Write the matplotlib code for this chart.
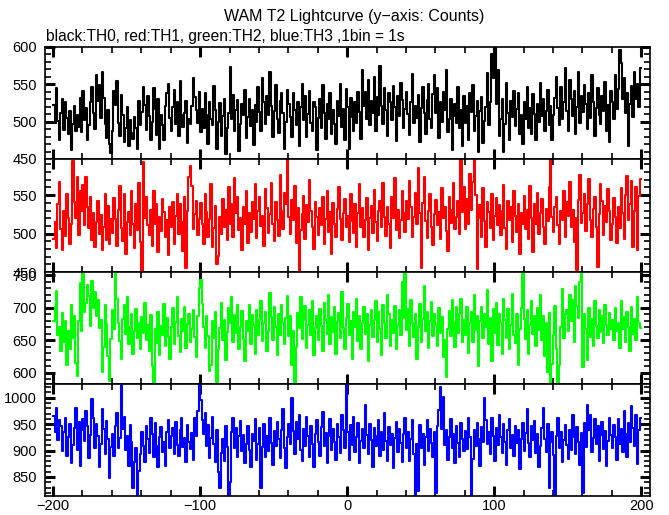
import numpy as np
import matplotlib
matplotlib.use("Agg")
import matplotlib.pyplot as plt
from matplotlib.ticker import MultipleLocator

plt.rcParams['font.family'] = ['Liberation Sans', 'DejaVu Sans']

# time bins (1 bin = 1 s), left edges
t = list(range(-200, 200))

# TH0 (black)
th0 = [
    522, 498, 545, 501, 476, 512, 530, 489, 527, 505, 483, 514, 462, 497, 521, 488, 509, 493, 532, 486,
    541, 502, 518, 476, 495, 527, 546, 511, 490, 563, 528, 549, 505, 567, 532, 497, 478, 515, 470, 458,
    487, 541, 522, 555, 498, 481, 536, 509, 473, 492, 519, 468, 502, 485, 477, 506, 491, 464, 528, 495,
    513, 547, 522, 489, 534, 508, 476, 499, 545, 517, 482, 530, 463, 509, 496, 476, 521, 538, 551, 505,
    488, 519, 542, 497, 526, 481, 555, 509, 493, 512, 528, 471, 503, 497, 521, 559, 533, 515, 498, 540,
    486, 517, 492, 538, 509, 470, 527, 503, 495, 548, 516, 463, 500, 525, 481, 507, 530, 457, 491, 512,
    573, 503, 536, 488, 515, 529, 461, 497, 524, 509, 542, 478, 506, 531, 494, 515, 469, 522, 500, 546,
    513, 488, 559, 527, 497, 535, 509, 566, 521, 480, 514, 549, 503, 485, 528, 538, 511, 463, 499, 543,
    524, 506, 480, 538, 515, 496, 527, 467, 519, 551, 502, 534, 479, 510, 541, 498, 487, 526, 519, 462,
    505, 531, 492, 549, 512, 477, 523, 503, 539, 484, 515, 497, 470, 528, 508, 551, 493, 517, 476, 544,
    519, 463, 532, 506, 488, 526, 498, 540, 513, 477, 569, 521, 540, 504, 556, 496, 528, 512, 560, 487,
    533, 509, 574, 521, 497, 545, 515, 481, 538, 526, 502, 548, 519, 474, 535, 507, 552, 529, 491, 517,
    540, 510, 482, 527, 564, 498, 521, 505, 536, 473, 518, 546, 512, 484, 529, 551, 503, 492, 537, 562,
    511, 545, 478, 526, 499, 540, 515, 569, 486, 503, 531, 462, 508, 524, 498, 547, 492, 516, 468, 535,
    498, 521, 476, 539, 513, 549, 487, 507, 528, 459, 514, 533, 472, 501, 520, 565, 496, 526, 590, 558,
    599, 523, 569, 481, 503, 530, 460, 497, 552, 512, 475, 528, 506, 541, 494, 517, 539, 483, 509, 470,
    527, 503, 546, 491, 518, 483, 537, 510, 475, 524, 499, 552, 507, 531, 487, 514, 542, 495, 521, 476,
    509, 532, 560, 518, 495, 547, 503, 526, 572, 514, 488, 556, 530, 507, 541, 483, 520, 566, 498, 535,
    513, 549, 524, 490, 539, 505, 562, 527, 481, 518, 545, 509, 497, 535, 514, 553, 488, 522, 473, 541,
    526, 503, 563, 517, 544, 596, 579, 530, 558, 512, 539, 468, 524, 548, 506, 566, 531, 551, 519, 572,
]

# TH1 (red)
th1 = [
    493, 515, 481, 539, 567, 506, 478, 530, 497, 552, 520, 486, 512, 595, 541, 520, 573, 498, 556, 529,
    563, 511, 574, 535, 507, 548, 491, 527, 483, 515, 542, 499, 524, 478, 508, 552, 491, 536, 487, 519,
    501, 546, 519, 484, 531, 562, 507, 490, 552, 473, 515, 528, 498, 556, 512, 481, 539, 505, 566, 489,
    451, 593, 520, 547, 511, 498, 531, 484, 555, 513, 539, 476, 522, 503, 545, 528, 496, 517, 472, 534,
    509, 541, 486, 523, 552, 499, 538, 515, 477, 547, 455, 530, 574, 588, 562, 506, 525, 543, 498, 519,
    540, 513, 486, 552, 528, 495, 519, 564, 482, 507, 536, 460, 471, 521, 499, 545, 509, 531, 491, 560,
    513, 538, 496, 572, 527, 548, 505, 520, 479, 535, 512, 556, 488, 527, 502, 541, 519, 565, 494, 530,
    547, 510, 523, 484, 558, 533, 501, 525, 566, 512, 490, 541, 518, 497, 576, 529, 506, 553, 538, 597,
    522, 500, 544, 517, 562, 488, 533, 451, 505, 526, 549, 493, 537, 515, 570, 530, 508, 480, 541, 522,
    498, 533, 511, 547, 486, 519, 556, 502, 528, 474, 540, 513, 495, 532, 560, 519, 491, 527, 545, 508,
    523, 489, 551, 516, 501, 538, 482, 527, 564, 509, 533, 495, 518, 546, 479, 520, 536, 501, 557, 515,
    490, 529, 543, 508, 566, 521, 497, 534, 513, 481, 548, 520, 572, 505, 531, 494, 518, 555, 527, 502,
    542, 519, 568, 534, 496, 521, 553, 512, 585, 527, 455, 540, 573, 516, 494, 530, 552, 509, 485, 526,
    544, 511, 528, 493, 559, 520, 535, 503, 477, 547, 514, 531, 566, 506, 522, 543, 499, 596, 528, 561,
    506, 545, 512, 578, 531, 567, 596, 550, 454, 520, 537, 495, 559, 516, 483, 541, 528, 507, 552, 492,
    523, 546, 511, 537, 498, 529, 563, 507, 480, 543, 517, 534, 489, 555, 523, 502, 538, 474, 527, 513,
    549, 506, 531, 493, 562, 520, 476, 538, 512, 553, 499, 527, 545, 509, 487, 532, 516, 561, 597, 521,
    502, 534, 548, 511, 486, 529, 518, 556, 495, 541, 523, 567, 509, 531, 489, 520, 453, 544, 576, 514,
    527, 551, 503, 539, 571, 518, 495, 532, 547, 509, 456, 526, 565, 543, 498, 536, 515, 558, 529, 492,
    513, 546, 522, 488, 534, 507, 559, 527, 493, 550, 575, 517, 538, 569, 482, 529, 561, 478, 549, 571,
]

# TH2 (green)
th2 = [
    680, 702, 726, 658, 671, 634, 692, 647, 679, 612, 665, 637, 704, 653, 688, 615, 596, 680, 738, 664,
    752, 694, 707, 735, 718, 672, 741, 700, 725, 688, 712, 669, 681, 601, 640, 705, 675, 626, 588, 652,
    697, 668, 754, 713, 676, 649, 622, 683, 704, 660, 716, 645, 671, 690, 629, 665, 698, 654, 677, 637,
    686, 662, 708, 651, 674, 633, 689, 610, 585, 667, 646, 693, 628, 672, 659, 706, 641, 684, 655, 621,
    670, 699, 644, 678, 716, 657, 632, 683, 664, 701, 639, 675, 690, 648, 668, 697, 655, 625, 688, 730,
    743, 706, 671, 638, 688, 657, 603, 612, 679, 654, 694, 586, 637, 669, 708, 650, 682, 620, 663, 700,
    676, 717, 648, 689, 662, 704, 637, 671, 695, 652, 618, 680, 664, 705, 645, 689, 673, 629, 697, 658,
    682, 710, 649, 676, 694, 633, 665, 722, 686, 651, 701, 671, 628, 690, 659, 705, 676, 645, 684, 718,
    657, 687, 612, 664, 585, 640, 692, 669, 717, 652, 681, 703, 639, 674, 696, 658, 711, 627, 669, 688,
    650, 698, 672, 634, 707, 681, 660, 719, 645, 686, 663, 701, 629, 678, 692, 654, 725, 669, 637, 684,
    706, 658, 680, 622, 694, 671, 713, 649, 688, 636, 677, 702, 660, 690, 619, 673, 696, 655, 682, 711,
    647, 693, 668, 628, 705, 676, 654, 720, 690, 641, 681, 662, 703, 637, 674, 697, 659, 740, 684, 753,
    666, 698, 641, 712, 677, 655, 690, 622, 671, 706, 648, 683, 733, 664, 694, 638, 679, 709, 657, 690,
    673, 641, 700, 662, 686, 625, 651, 594, 668, 695, 656, 712, 678, 640, 702, 661, 690, 714, 647, 682,
    659, 701, 630, 676, 693, 648, 719, 666, 687, 610, 679, 702, 653, 691, 670, 727, 645, 684, 618, 698,
    662, 708, 643, 690, 676, 629, 714, 681, 654, 698, 636, 673, 721, 659, 646, 690, 612, 668, 700, 753,
    683, 652, 696, 629, 674, 710, 660, 687, 642, 699, 666, 720, 651, 688, 626, 677, 601, 692, 585, 614,
    659, 703, 637, 585, 612, 671, 729, 654, 690, 697, 664, 720, 680, 712, 648, 734, 703, 684, 740, 753,
    609, 691, 668, 620, 700, 655, 683, 641, 711, 672, 653, 696, 663, 688, 646, 705, 674, 659, 692, 668,
    681, 650, 699, 664, 677, 639, 710, 668, 686, 648, 693, 671, 634, 702, 660, 683, 651, 716, 676, 669,
]

# TH3 (blue)
th3 = [
    965, 935, 980, 920, 958, 947, 899, 936, 962, 889, 925, 951, 876, 910, 943, 980, 902, 955, 871, 938,
    960, 918, 974, 946, 885, 929, 997, 962, 905, 951, 927, 868, 913, 978, 940, 893, 956, 921, 849, 907,
    931, 889, 946, 972, 905, 923, 1025, 940, 963, 902, 927, 871, 948, 916, 830, 879, 904, 816, 862, 893,
    935, 908, 878, 947, 921, 895, 962, 932, 887, 953, 909, 869, 926, 944, 898, 917, 871, 936, 958, 904,
    927, 942, 893, 955, 911, 889, 938, 962, 906, 924, 879, 948, 917, 903, 934, 882, 961, 927, 975, 1026,
    995, 957, 931, 972, 909, 948, 886, 923, 964, 912, 879, 938, 860, 830, 895, 922, 881, 947, 907, 816,
    840, 935, 961, 904, 942, 888, 927, 956, 899, 930, 876, 912, 947, 902, 869, 931, 918, 960, 883, 913,
    942, 829, 906, 951, 887, 928, 899, 962, 915, 873, 937, 908, 954, 921, 885, 939, 978, 905, 867, 926,
    951, 913, 1000, 937, 894, 955, 921, 968, 902, 880, 941, 909, 963, 927, 888, 946, 912, 869, 932, 958,
    916, 890, 945, 973, 908, 934, 876, 927, 959, 901, 940, 917, 883, 951, 925, 896, 968, 939, 905, 1026,
    936, 882, 948, 911, 964, 897, 925, 953, 876, 918, 940, 905, 987, 929, 894, 951, 920, 868, 943, 909,
    927, 958, 890, 936, 902, 971, 919, 881, 944, 910, 932, 867, 923, 955, 898, 940, 915, 878, 931, 962,
    904, 936, 880, 921, 957, 893, 816, 912, 823, 949, 905, 931, 873, 926, 958, 899, 940, 915, 887, 936,
    820, 947, 976, 1020, 940, 1002, 911, 938, 883, 926, 959, 905, 931, 877, 947, 914, 888, 952, 921, 899,
    937, 903, 961, 926, 815, 884, 939, 908, 953, 921, 870, 945, 917, 1000, 958, 912, 936, 893, 962, 927,
    881, 942, 910, 968, 926, 895, 951, 917, 872, 938, 960, 904, 929, 889, 946, 915, 938, 866, 921, 953,
    900, 933, 978, 914, 887, 946, 920, 956, 895, 931, 869, 908, 943, 981, 922, 897, 951, 830, 917, 936,
    892, 815, 928, 961, 904, 936, 878, 920, 948, 910, 884, 939, 902, 968, 926, 893, 945, 917, 872, 933,
    820, 952, 907, 986, 939, 967, 898, 924, 959, 913, 946, 881, 929, 954, 903, 937, 870, 918, 961, 930,
    905, 948, 926, 883, 959, 912, 940, 897, 974, 931, 888, 952, 916, 985, 943, 909, 967, 874, 938, 962,
]

series = [th0, th1, th2, th3]
colors = ['black', '#ff0000', '#00ff00', '#0000ff']
ylims = [(450, 600), (450, 597), (583, 755), (814, 1026)]

fig = plt.figure(figsize=(6.69, 5.15), dpi=100)

# panel edges in pixels from the top
left, right = 45 / 669, 650 / 669
edges = [47, 159, 272, 384, 496]

for i, (vals, col, yl) in enumerate(zip(series, colors, ylims)):
    bottom = 1 - edges[i + 1] / 515
    height = (edges[i + 1] - edges[i]) / 515
    ax = fig.add_axes([left, bottom, right - left, height])
    # step curve, closing last bin at t=200
    xs = t + [t[-1] + 1]
    ys = vals + [vals[-1]]
    ax.step(xs, ys, where='post', color=col, lw=1.5)
    ax.set_xlim(-205.5, 206)
    ax.set_ylim(*yl)
    ax.xaxis.set_major_locator(MultipleLocator(100))
    ax.xaxis.set_minor_locator(MultipleLocator(20))
    ax.yaxis.set_major_locator(MultipleLocator(50))
    ax.yaxis.set_minor_locator(MultipleLocator(10))
    ax.tick_params(which='both', direction='in', top=True, right=True,
                   labelsize=10.5)
    ax.tick_params(axis='y', pad=6)
    ax.tick_params(axis='x', pad=2.5)
    ax.tick_params(which='major', length=7, width=2.2)
    ax.tick_params(which='minor', length=4, width=1.2)
    for s in ax.spines.values():
        s.set_linewidth(1.2)
    if i < 3:
        ax.tick_params(labelbottom=False)

fig.text(354 / 669, 1 - 17 / 515, "WAM T2 Lightcurve (y\u2212axis: Counts)",
         ha='center', va='center', fontsize=11.5)
fig.text(46 / 669, 1 - 36 / 515, "black:TH0, red:TH1, green:TH2, blue:TH3 ,1bin = 1s",
         ha='left', va='center', fontsize=11.2)

fig.savefig("out.png", dpi=100)
